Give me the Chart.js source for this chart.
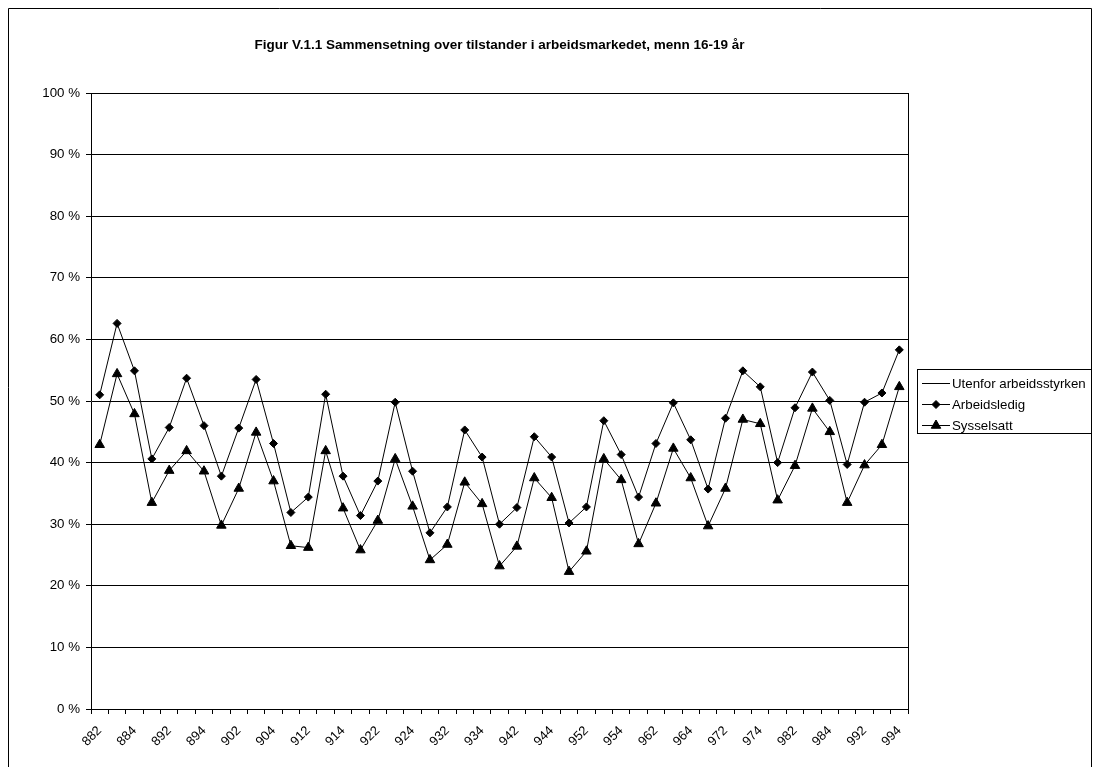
<!DOCTYPE html>
<html>
<head>
<meta charset="utf-8">
<title>Figur V.1.1</title>
<script src="https://cdn.jsdelivr.net/npm/chart.js@4.4.1/dist/chart.umd.min.js"></script>
<style>
    html, body { margin: 0; padding: 0; background: #fff; }
    #chartBox { width: 1093px; height: 767px; position: relative; }
</style>
</head>
<body>
<div id="chartBox"><canvas id="chart"></canvas></div>
<script>

// quarters, 882 = 1988 2. kvartal
const quarters = ['882', '883', '884',
    '891', '892', '893', '894', '901', '902', '903', '904', '911', '912', '913', '914',
    '921', '922', '923', '924', '931', '932', '933', '934', '941', '942', '943', '944',
    '951', '952', '953', '954', '961', '962', '963', '964', '971', '972', '973', '974',
    '981', '982', '983', '984', '991', '992', '993', '994'];

// cumulative shares in percent (stacked: sysselsatt, + arbeidsledig, + utenfor = 100)
const sysselsatt = [42.9, 54.4, 47.9, 33.5, 38.7, 41.9, 38.6, 29.8, 35.8, 44.9, 37.0, 26.5,
    26.2, 41.9, 32.6, 25.8, 30.6, 40.6, 32.9, 24.2, 26.7, 36.8, 33.3, 23.2,
    26.4, 37.5, 34.3, 22.3, 25.6, 40.6, 37.2, 26.8, 33.4, 42.3, 37.5, 29.7,
    35.8, 47.0, 46.3, 33.9, 39.5, 48.8, 45.0, 33.5, 39.6, 42.9, 52.3];
const arbeidsledig = [51.0, 62.6, 54.9, 40.6, 45.7, 53.7, 46.0, 37.8, 45.6, 53.5, 43.1, 31.9,
    34.4, 51.1, 37.8, 31.4, 37.0, 49.8, 38.6, 28.6, 32.8, 45.3, 40.9, 30.0,
    32.7, 44.2, 40.9, 30.2, 32.8, 46.8, 41.3, 34.4, 43.1, 49.7, 43.7, 35.7,
    47.2, 54.9, 52.3, 40.0, 48.9, 54.7, 50.1, 39.7, 49.8, 51.3, 58.3];
const utenfor = [100, 100, 100, 100, 100, 100, 100, 100, 100, 100, 100, 100,
    100, 100, 100, 100, 100, 100, 100, 100, 100, 100, 100, 100,
    100, 100, 100, 100, 100, 100, 100, 100, 100, 100, 100, 100,
    100, 100, 100, 100, 100, 100, 100, 100, 100, 100, 100];

const yTicks = [0, 10, 20, 30, 40, 50, 60, 70, 80, 90, 100];
const seriesNames = ['Utenfor arbeidsstyrken', 'Arbeidsledig', 'Sysselsatt'];
const seriesMarkers = [false, 'rectRot', 'triangle'];
const chartTitle = 'Figur V.1.1 Sammensetning over tilstander i arbeidsmarkedet, menn 16-19 år';

const FONT = 'Arial, "Liberation Sans", Helvetica, sans-serif';

window.addEventListener("load", init);

function init() {

    let values = {
        labels: quarters,
        datasets: [
            makeSet(seriesNames[0], utenfor, false, 0),
            makeSet(seriesNames[1], arbeidsledig, 'rectRot', 4),
            makeSet(seriesNames[2], sysselsatt, 'triangle', 5.5)
        ]
    };

    let config = {
        type: 'line',
        data: values,
        options: {
            responsive: true,
            maintainAspectRatio: false,
            animation: false,
            layout: { padding: { left: 0, top: 93, right: 185, bottom: 0 } },
            plugins: {
                legend: { display: false },
                title: { display: false },
                tooltip: { enabled: false }
            },
            scales: {
                x: {
                    type: 'category',
                    offset: true,
                    grid: {
                        display: true,
                        offset: true,
                        drawOnChartArea: false,
                        drawTicks: true,
                        tickLength: 5,
                        color: '#000',
                        lineWidth: 1
                    },
                    border: { display: true, color: '#000', width: 1 },
                    ticks: {
                        autoSkip: false,
                        minRotation: 45,
                        maxRotation: 45,
                        padding: 9,
                        color: '#000',
                        font: { family: FONT, size: 13 },
                        callback: function (val, index) {
                            return index % 2 === 0 ? quarters[index] : '';
                        }
                    },
                    afterFit: function (scale) { scale.height = 58; }
                },
                y: {
                    min: 0,
                    max: 100,
                    afterBuildTicks: function (scale) {
                        scale.ticks = yTicks.map(v => ({ value: v }));
                    },
                    grid: {
                        color: '#000',
                        lineWidth: 1,
                        drawTicks: true,
                        tickLength: 5
                    },
                    border: { display: true, color: '#000', width: 1 },
                    ticks: {
                        padding: 6,
                        color: '#000',
                        font: { family: FONT, size: 13.3 },
                        callback: function (v) { return v + ' %'; }
                    },
                    afterFit: function (scale) { scale.width = 91; }
                }
            }
        },
        plugins: [decorations]
    };

    new Chart(id("chart"), config);
}

function makeSet(name, data, marker, size) {
    return {
        label: name,
        data: data,
        borderColor: '#000',
        backgroundColor: '#000',
        borderWidth: 1,
        tension: 0,
        pointStyle: marker,
        pointRadius: size,
        pointBorderWidth: 1,
        pointBorderColor: '#000',
        pointBackgroundColor: '#000'
    };
}

// frame, plot area border, title and legend box like the Excel original
const decorations = {
    id: 'decorations',
    afterDraw(chart) {
        const ctx = chart.ctx;
        const area = chart.chartArea;
        ctx.save();
        ctx.strokeStyle = '#000';
        ctx.lineWidth = 1;

        // outer chart frame
        ctx.beginPath();
        ctx.moveTo(8.5, 767);
        ctx.lineTo(8.5, 8.5);
        ctx.lineTo(1091.5, 8.5);
        ctx.lineTo(1091.5, 767);
        ctx.stroke();

        // right edge of plot area
        ctx.beginPath();
        ctx.moveTo(Math.round(area.right) + 0.5, area.top);
        ctx.lineTo(Math.round(area.right) + 0.5, area.bottom);
        ctx.stroke();

        // title
        ctx.fillStyle = '#000';
        ctx.font = 'bold 13.5px ' + FONT;
        ctx.textAlign = 'center';
        ctx.textBaseline = 'middle';
        ctx.fillText(chartTitle, (area.left + area.right) / 2, 45);

        // legend
        ctx.strokeRect(917.5, 369.5, 174, 64);
        ctx.font = '13.3px ' + FONT;
        ctx.textAlign = 'left';
        for (let i = 0; i < seriesNames.length; i++) {
            let y = 383 + i * 21;
            ctx.beginPath();
            ctx.moveTo(922, y + 0.5);
            ctx.lineTo(950, y + 0.5);
            ctx.stroke();
            if (seriesMarkers[i]) {
                Chart.helpers.drawPoint(ctx, {
                    pointStyle: seriesMarkers[i],
                    radius: seriesMarkers[i] === 'triangle' ? 5.5 : 4,
                    borderWidth: 1
                }, 936, y + 0.5);
            }
            ctx.fillText(seriesNames[i], 952, y + 1);
        }
        ctx.restore();
    }
};

function id(idName) {
    return document.getElementById(idName);
}

</script>
</body>
</html>
